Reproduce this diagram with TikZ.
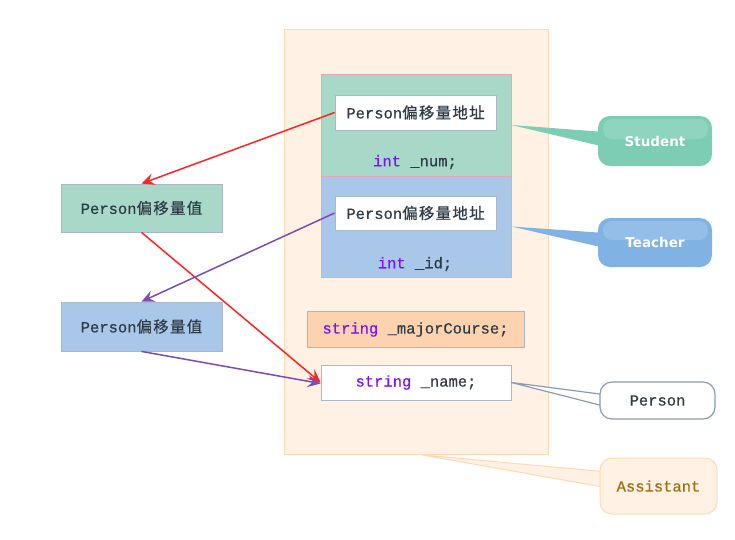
\documentclass[tikz,border=0pt]{standalone}
\usepackage{fontspec}
\setmonofont[FakeBold=0.5]{Liberation Mono}
\newfontfamily\cjk[LetterSpace=8,FakeBold=0.5]{Noto Sans CJK SC}
\newfontfamily\labsans{DejaVu Sans}
\usetikzlibrary{arrows.meta,calc}
\definecolor{asstfill}{HTML}{FFF1E4}
\definecolor{asstline}{HTML}{FFD9B4}
\definecolor{studfill}{HTML}{A8D9C8}
\definecolor{teachfill}{HTML}{A9C7E8}
\definecolor{pinkline}{HTML}{E6A6B8}
\definecolor{majfill}{HTML}{FCD3AE}
\definecolor{grayline}{HTML}{A9B8C8}
\definecolor{kw}{HTML}{7A10FF}
\definecolor{txt}{HTML}{2E3A46}
\definecolor{redarr}{HTML}{FF2424}
\definecolor{purarr}{HTML}{7A4CB4}
\definecolor{studcall}{HTML}{7CCDB4}
\definecolor{teachcall}{HTML}{80B3E3}
\definecolor{perline}{HTML}{8A9CB2}
\definecolor{asstxt}{HTML}{A0700E}
\tikzset{
  blk/.style={draw, line width=0.8pt, inner sep=0pt, rectangle},
  code/.style={font=\ttfamily\fontsize{15.5}{18}\selectfont, text=txt, inner sep=0pt},
  arr/.style={line width=1.5pt, -{Stealth[length=13pt,width=12pt,inset=5pt]}},
  callout/.style={rounded corners=12pt, inner sep=0pt, line width=1pt},
}
\newcommand{\pos}[1]{{\ttfamily Person}{\cjk #1}}
\begin{document}
\begin{tikzpicture}[x=1pt,y=-1pt]
\useasboundingbox (0,0) rectangle (735,539);
% Assistant object
\node[blk, draw=asstline, fill=asstfill, minimum width=264pt, minimum height=425pt] (asst) at (416,241.5) {};
% Student part
\node[blk, draw=pinkline, fill=studfill, minimum width=190pt, minimum height=102pt] (stud) at (416,125) {};
\node[blk, draw=pinkline, fill=teachfill, minimum width=190pt, minimum height=101pt] (teach) at (416,226.5) {};
\node[blk, draw=grayline, fill=white, minimum width=161pt, minimum height=35pt, code] (sw) at (415.5,112.5) {\pos{偏移量地址}};
\node[blk, draw=grayline, fill=white, minimum width=161pt, minimum height=34pt, code] (tw) at (415.5,213) {\pos{偏移量地址}};
\node[code] (num) at (415,162) {\textcolor{kw}{int} \_num;};
\node[code] (id) at (415,264) {\textcolor{kw}{int} \_id;};
\node[blk, draw=grayline, fill=majfill, minimum width=217pt, minimum height=36pt, code] (maj) at (415.5,329.5) {\textcolor{kw}{string} \_majorCourse;};
\node[blk, draw=grayline, fill=white, minimum width=190pt, minimum height=35pt, code] (name) at (416,382.5) {\textcolor{kw}{string} \_name;};
% left offset values
\node[blk, draw=grayline, fill=studfill, minimum width=161pt, minimum height=48pt, code] (gv) at (141.5,208) {\pos{偏移量值}};
\node[blk, draw=grayline, fill=teachfill, minimum width=161pt, minimum height=49pt, code] (bv) at (141.5,326.5) {\pos{偏移量值}};
% arrows
\draw[arr, redarr] (sw.west) -- (gv.north);
\draw[arr, redarr] (gv.south) -- (name.west);
\draw[arr, purarr] (tw.west) -- (bv.north);
\draw[arr, purarr] (bv.south) -- ($(name.west)+(0,1)$);
% callouts
\coordinate (scc) at (655,141);
\fill[studcall] (stud.east) -- ($(scc)+(-50,-9)$) -- ($(scc)+(-50,6)$) -- cycle;
\node[callout, fill=studcall, minimum width=114pt, minimum height=50pt] (sc) at (scc) {};
\fill[white, opacity=0.15, rounded corners=9pt] (603,119) rectangle (708,139);
\node[font=\labsans\bfseries\fontsize{13.5}{16}\selectfont, text=white] (sct) at (scc) {Student};

\coordinate (tcc) at (655,242.5);
\fill[teachcall] (teach.east) -- ($(tcc)+(-50,-9.5)$) -- ($(tcc)+(-50,5.5)$) -- cycle;
\node[callout, fill=teachcall, minimum width=114pt, minimum height=49pt] (tc) at (tcc) {};
\fill[white, opacity=0.15, rounded corners=9pt] (603,221) rectangle (708,240);
\node[font=\labsans\bfseries\fontsize{13.5}{16}\selectfont, text=white] (tct) at (tcc) {Teacher};

\coordinate (pcc) at (657.5,400.5);
\draw[perline, line width=1.2pt, fill=white, line join=round] (name.east) -- ($(pcc)+(-50,-5.5)$) -- ($(pcc)+(-50,6.5)$) -- cycle;
\node[callout, draw=perline, line width=1.2pt, fill=white, minimum width=115pt, minimum height=37pt, code, text=txt] (pc) at (pcc) {Person};

\coordinate (acc) at (658.5,486);
\draw[asstline, line width=1pt, fill=asstfill, line join=round] ($(asst.south)+(6,0.5)$) -- ($(acc)+(-50,-14)$) -- ($(acc)+(-50,2)$) -- cycle;
\node[callout, draw=asstline, fill=asstfill, minimum width=117pt, minimum height=56pt, code, text=asstxt] (ac) at (acc) {Assistant};
\end{tikzpicture}
\end{document}
